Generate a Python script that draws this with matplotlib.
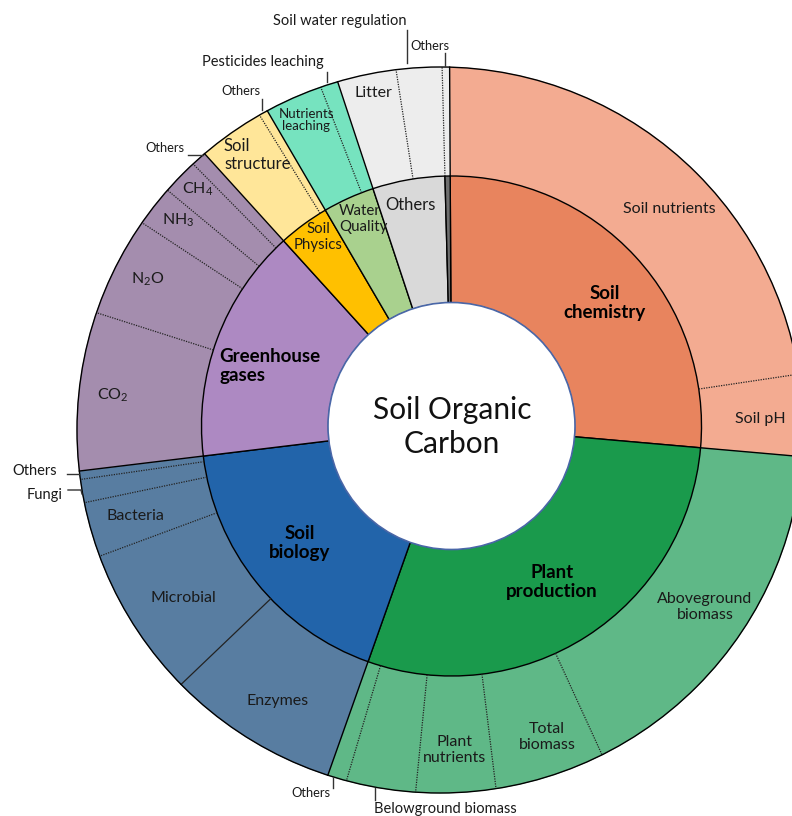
import numpy as np
import matplotlib
matplotlib.use("Agg")
import matplotlib.pyplot as plt
from matplotlib.patches import Circle

plt.rcParams['font.family'] = ['Lato', 'DejaVu Sans']

# ---- data: arc of each slice in degrees, clockwise from the top ----
groups = ["Soil\nchemistry", "Plant\nproduction", "Soil\nbiology",
          "Greenhouse\ngases", "Soil\nPhysics", "Water\nQuality", "Others", ""]
group_deg = [95.3, 104.5, 63.6, 54.7, 11.9, 12.0, 16.8, 1.2]
group_colors = ['#E8845E', '#1A9A4C', '#2264AA', '#AD89C2',
                '#FFC000', '#A9D18E', '#D9D9D9', '#6E6E6E']
outer_colors = ['#F3AB91', '#5FB887', '#587DA1', '#A48DAE',
                '#FFE699', '#76E3BF', '#EDEDED', '#EDEDED']

sub_names = ["Soil nutrients", "Soil pH",
             "Aboveground biomass", "Total biomass", "Plant nutrients",
             "Belowground biomass", "Others",
             "Enzymes", "Microbial", "Bacteria", "Fungi", "Others",
             "CO2", "N2O", "NH3", "CH4", "Others",
             "Soil structure", "Others",
             "Nutrients leaching", "Pesticides leaching",
             "Litter", "Soil water regulation",
             "Others"]
sub_deg = [81.8, 13.5,
           60.4, 17.6, 12.6, 10.9, 3.0,
           26.8, 23.4, 8.5, 3.6, 1.3,
           24.6, 15.6, 6.4, 5.7, 2.4,
           10.5, 1.4,
           9.2, 2.8,
           9.45, 7.35,
           1.2]
sub_group = [0, 0,
             1, 1, 1, 1, 1,
             2, 2, 2, 2, 2,
             3, 3, 3, 3, 3,
             4, 4,
             5, 5,
             6, 6,
             7]

# ---- layout (pixel units, y measured from the bottom) ----
H = 816
START = 90.3
CI = np.array([451.5, H - 426.0])   # centre of the inner rings
CO = np.array([440.0, H - 430.0])   # centre of the outer edge
R1, R2, R3 = 123.0, 250.0, 363.0


def px(x, y):
    return x, H - y


def inner_pt(theta, r):
    t = np.radians(theta)
    return CI[0] + r * np.cos(t), CI[1] + r * np.sin(t)


def outer_pt(theta):
    # ray from the inner centre to the (off-centre) outer circle
    t = np.radians(np.asarray(theta, dtype=float))
    u = np.stack([np.cos(t), np.sin(t)], axis=-1)
    d = CI - CO
    b = u @ d
    s = -b + np.sqrt(b * b - (d @ d - R3 * R3))
    p = CI + s[..., None] * u
    return p[..., 0], p[..., 1]


fig = plt.figure(figsize=(7.92, 8.16), dpi=100)
ax = fig.add_axes([0, 0, 1, 1])

# outer ring
sub_end = START - np.cumsum(sub_deg)
sub_start = sub_end + np.array(sub_deg)
for a0, a1, g in zip(sub_start, sub_end, sub_group):
    th = np.linspace(a0, a1, 80)
    xi, yi = inner_pt(th, R2 - 2)
    xo, yo = outer_pt(th)
    ax.fill(np.r_[xi, xo[::-1]], np.r_[yi, yo[::-1]],
            fc=outer_colors[g], ec=outer_colors[g], lw=0.5, zorder=1)

# dividers in the outer ring
for i in range(len(sub_deg) - 1):
    a = sub_end[i]
    x0, y0 = inner_pt(a, R2)
    x1, y1 = outer_pt(a)
    if sub_group[i] != sub_group[i + 1] and sub_group[i + 1] != 7:
        ax.plot([x0, x1], [y0, y1], color='black', lw=1.0, zorder=3)
    elif sub_names[i] == "Enzymes":
        ax.plot([x0, x1], [y0, y1], color='#222222', lw=0.9, zorder=3)
    else:
        ax.plot([x0, x1], [y0, y1], color='#222222', lw=0.9,
                ls=(0, (1, 1)), zorder=3)
x1, y1 = outer_pt(START)
ax.plot([inner_pt(START, R2)[0], x1], [inner_pt(START, R2)[1], y1],
        color='black', lw=1.0, zorder=3)
ax.add_patch(Circle(CO, R3, fill=False, ec='black', lw=1.0, zorder=3))

# inner ring
ax.pie(group_deg, colors=group_colors, startangle=START, counterclock=False,
       center=tuple(CI), radius=R2, frame=True,
       wedgeprops=dict(width=R2 - R1, edgecolor='black', linewidth=1.0,
                       zorder=2))
ax.add_patch(Circle(CI, R1 + 0.5, fc='white', ec='#4A67A8', lw=1.2, zorder=4))

ax.text(*px(452, 427), "Soil Organic\nCarbon", ha='center', va='center',
        fontsize=21.5, linespacing=1.22, color='#111111', zorder=5)

bold = dict(fontsize=13.5, fontweight='bold', linespacing=1.15, zorder=5,
            va='center')
ax.text(*px(605, 303), groups[0], ha='center', multialignment='center', **bold)
ax.text(*px(552, 582), groups[1], ha='center', multialignment='center', **bold)
ax.text(*px(300, 543), groups[2], ha='center', multialignment='center', **bold)
ax.text(*px(219, 366), groups[3], ha='left', multialignment='left', **bold)

small = dict(fontsize=10.8, linespacing=1.1, va='center', zorder=5,
             color='#1a1a1a')
ax.text(*px(318, 237), groups[4], ha='center', multialignment='center', **small)
ax.text(*px(339, 219), groups[5], ha='left', multialignment='left', **small)
ax.text(*px(410, 205), groups[6], ha='center', fontsize=12, va='center',
        color='#1a1a1a', zorder=5)

lab = dict(fontsize=11.5, linespacing=1.15, va='center', ha='center',
           color='#1a1a1a', zorder=5)
ax.text(*px(669, 209), "Soil nutrients", **lab)
ax.text(*px(760, 419), "Soil pH", **lab)
ax.text(*px(705, 607), "Aboveground\nbiomass", **lab)
ax.text(*px(547, 737), "Total\nbiomass", **lab)
ax.text(*px(455, 750), "Plant\nnutrients", **lab)
ax.text(*px(278, 701), "Enzymes", **lab)
ax.text(*px(183, 598), "Microbial", **lab)
ax.text(*px(135, 516), "Bacteria", **lab)
ax.text(*px(113, 395), r"CO$_\mathregular{2}$", **lab)
ax.text(*px(148, 279), r"N$_\mathregular{2}$O", **lab)
ax.text(*px(178, 220), r"NH$_\mathregular{3}$", **lab)
ax.text(*px(198, 189), r"CH$_\mathregular{4}$", **lab)
ax.text(*px(373, 93), "Litter", **lab)
ax.text(*px(224, 155), "Soil\nstructure", fontsize=12, linespacing=1.15,
        va='center', ha='left', color='#1a1a1a', zorder=5)
ax.text(*px(306, 120), "Nutrients\nleaching", fontsize=9.5, linespacing=1.1,
        va='center', ha='center', color='#1a1a1a', zorder=5)

# labels outside the ring, with leader lines
ext = [("Belowground biomass", 445, 809, 10.5, [(375, 788), (375, 800)]),
       ("Others", 311, 793, 9.3, [(333, 777), (333, 788)]),
       ("Fungi", 45, 495, 10.5, [(68, 490), (81, 490), (82, 494)]),
       ("Others", 35, 471, 10.5, [(67, 474), (79, 474)]),
       ("Others", 165, 148, 9.3, [(188, 155), (203, 155)]),
       ("Others", 241, 91, 9.3, [(262, 99), (262, 110)]),
       ("Pesticides leaching", 263, 62, 10.5, [(327, 72), (327, 82)]),
       ("Soil water regulation", 340, 21, 10.5, [(407, 30), (407, 63)]),
       ("Others", 430, 46, 9.3, [(445, 53), (445, 66)])]
for text, x, y, fs, leader in ext:
    ax.text(*px(x, y), text, fontsize=fs, ha='center', va='center',
            color='#1a1a1a', zorder=5)
    lx, ly = zip(*[px(a, b) for a, b in leader])
    ax.plot(lx, ly, color='#333333', lw=1.0, zorder=5)

ax.set_xlim(0, 792)
ax.set_ylim(0, H)
ax.set_aspect('auto')
ax.axis('off')
fig.savefig("out.png", dpi=100)
